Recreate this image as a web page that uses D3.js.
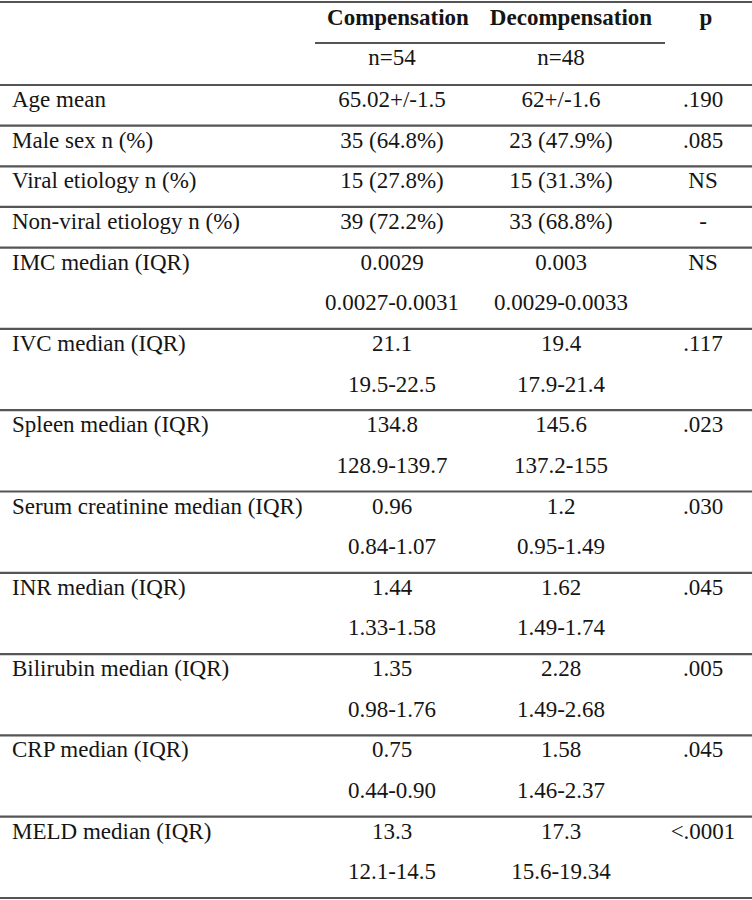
<!DOCTYPE html>
<html>
<head>
<meta charset="utf-8">
<script src="https://cdn.jsdelivr.net/npm/d3@7"></script>
<style>
  body { margin: 0; background: #fff; }
  svg text { font-family: "Liberation Serif", "Times New Roman", serif; fill: #151515; }
  .rule { stroke: #555; stroke-width: 2.2; }
  .head { font-weight: bold; }
</style>
</head>
<body>
<div id="table-chart"></div>
<script>
// Table data
var rowLabels = [
  "Age mean",
  "Male sex n (%)",
  "Viral etiology n (%)",
  "Non-viral etiology n (%)",
  "IMC median (IQR)",
  "IVC median (IQR)",
  "Spleen median (IQR)",
  "Serum creatinine median (IQR)",
  "INR median (IQR)",
  "Bilirubin median (IQR)",
  "CRP median (IQR)",
  "MELD median (IQR)"
];
var groupHeaders = ["Compensation", "Decompensation", "p"];
var groupSizes = ["n=54", "n=48"];
var compValues = ["65.02+/-1.5", "35 (64.8%)", "15 (27.8%)", "39 (72.2%)",
  "0.0029", "21.1", "134.8", "0.96", "1.44", "1.35", "0.75", "13.3"];
var compRanges = [null, null, null, null,
  "0.0027-0.0031", "19.5-22.5", "128.9-139.7", "0.84-1.07", "1.33-1.58", "0.98-1.76", "0.44-0.90", "12.1-14.5"];
var decompValues = ["62+/-1.6", "23 (47.9%)", "15 (31.3%)", "33 (68.8%)",
  "0.003", "19.4", "145.6", "1.2", "1.62", "2.28", "1.58", "17.3"];
var decompRanges = [null, null, null, null,
  "0.0029-0.0033", "17.9-21.4", "137.2-155", "0.95-1.49", "1.49-1.74", "1.49-2.68", "1.46-2.37", "15.6-19.34"];
var pValues = [".190", ".085", "NS", "-", "NS", ".117", ".023", ".030", ".045", ".005", ".045", "<.0001"];

var width = 752;
var height = 900;
var fontSize = 23;

var svg = d3.select("#table-chart")
  .append("svg")
  .attr("width", width)
  .attr("height", height);

// Each row takes one or two sub-rows; build start index for every row
var rows = rowLabels.map(function(label, i) {
  return {
    label: label,
    comp: compValues[i],
    compRange: compRanges[i],
    decomp: decompValues[i],
    decompRange: decompRanges[i],
    p: pValues[i],
    span: compRanges[i] ? 2 : 1
  };
});
var start = 0;
rows.forEach(function(d) {
  d.start = start;
  start += d.span;
});
var totalSub = start;

// Scales
var yScale = d3.scaleLinear().domain([0, totalSub]).range([85, 898]);
var xScale = d3.scaleOrdinal()
  .domain(["label", "comp", "decomp", "p"])
  .range([12, 392, 561, 703]);
var headX = d3.scaleOrdinal()
  .domain(groupHeaders)
  .range([398, 571, 706]);

var baseline = 22;

// Top rule and header
svg.append("line").attr("class", "rule")
  .attr("x1", 0).attr("x2", width).attr("y1", 2).attr("y2", 2);

svg.append("g")
  .selectAll("text")
  .data(groupHeaders)
  .enter()
  .append("text")
  .attr("class", "head")
  .attr("x", d => headX(d))
  .attr("y", 25)
  .attr("text-anchor", "middle")
  .style("font-size", fontSize + "px")
  .text(d => d);

svg.append("line").attr("class", "rule")
  .attr("x1", 315).attr("x2", 665).attr("y1", 43).attr("y2", 43)
  .style("stroke-width", 1.8);

svg.append("g")
  .selectAll("text")
  .data(groupSizes)
  .enter()
  .append("text")
  .attr("x", (d, i) => xScale(i === 0 ? "comp" : "decomp"))
  .attr("y", 65)
  .attr("text-anchor", "middle")
  .style("font-size", fontSize + "px")
  .text(d => d);

// Horizontal rules between rows
var ruleStops = [0].concat(rows.map(d => d.start + d.span));
svg.append("g")
  .selectAll("line")
  .data(ruleStops)
  .enter()
  .append("line")
  .attr("class", "rule")
  .attr("x1", 0)
  .attr("x2", width)
  .attr("y1", d => yScale(d))
  .attr("y2", d => yScale(d));

// Cells
var rowG = svg.append("g")
  .selectAll("g")
  .data(rows)
  .enter()
  .append("g");

function addCell(sel, key, accessor, sub, anchor) {
  sel.filter(d => accessor(d) != null)
    .append("text")
    .attr("x", xScale(key))
    .attr("y", d => yScale(d.start + sub) + baseline)
    .attr("text-anchor", anchor)
    .style("font-size", fontSize + "px")
    .text(accessor);
}

addCell(rowG, "label", d => d.label, 0, "start");
addCell(rowG, "comp", d => d.comp, 0, "middle");
addCell(rowG, "comp", d => d.compRange, 1, "middle");
addCell(rowG, "decomp", d => d.decomp, 0, "middle");
addCell(rowG, "decomp", d => d.decompRange, 1, "middle");
addCell(rowG, "p", d => d.p, 0, "middle");
</script>
</body>
</html>
